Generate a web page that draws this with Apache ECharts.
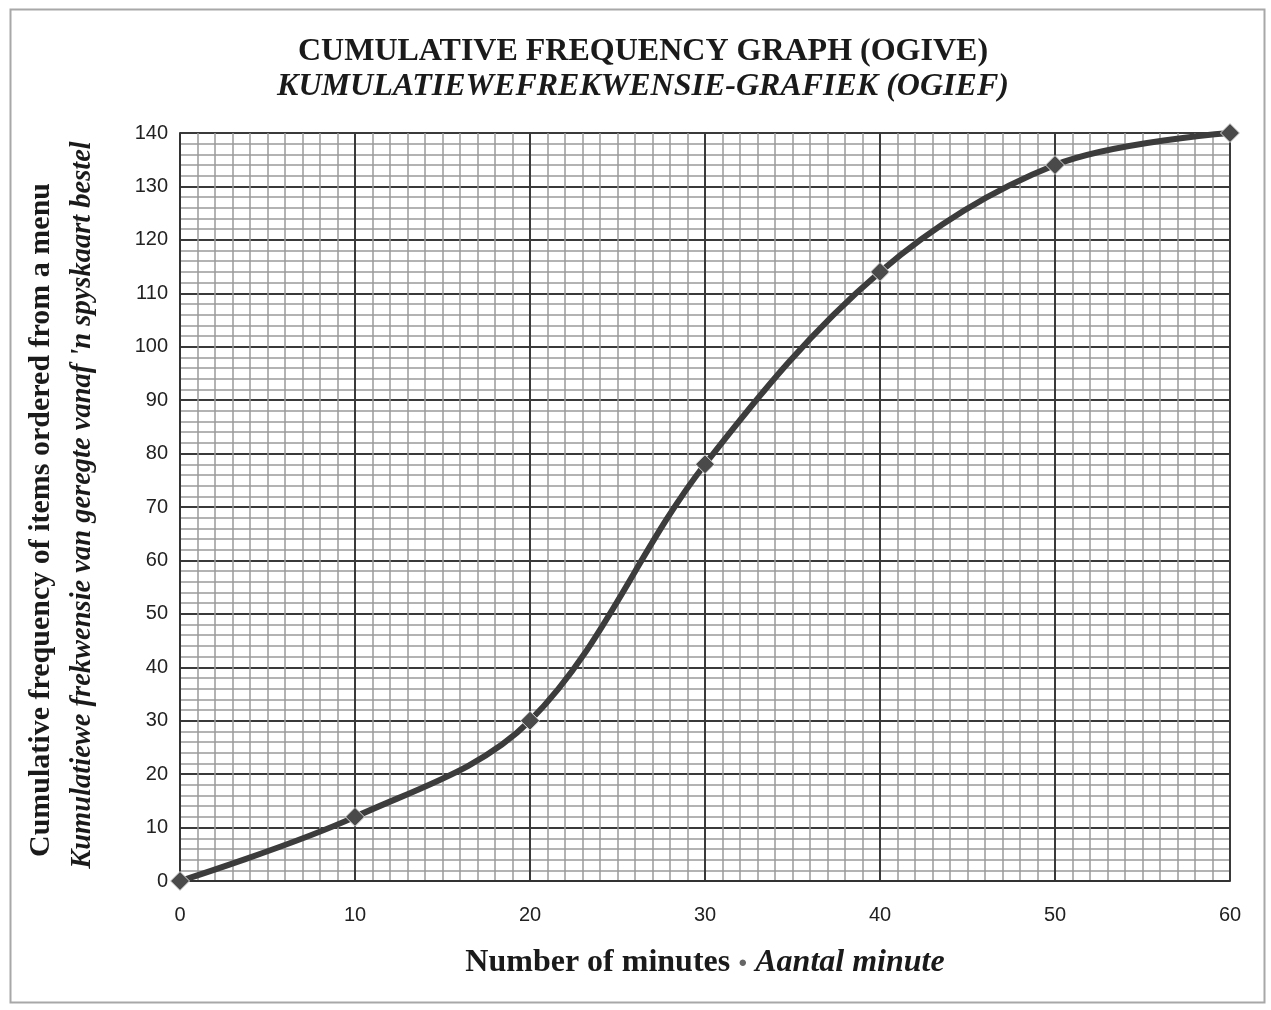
<!DOCTYPE html>
<html>
<head>
<meta charset="utf-8">
<script src="https://cdn.jsdelivr.net/npm/echarts@6/dist/echarts.min.js"></script>
<style>
html,body{margin:0;padding:0;background:#fff;}
#c{width:1271px;height:1010px;}
</style>
</head>
<body>
<div id="c"></div>
<script>
const minutes = [0, 10, 20, 30, 40, 50, 60];
const cumFreq = [0, 12, 30, 78, 114, 134, 140];
const xTicks = [0, 10, 20, 30, 40, 50, 60];
const yTicks = [0, 10, 20, 30, 40, 50, 60, 70, 80, 90, 100, 110, 120, 130, 140];

const chart = echarts.init(document.getElementById('c'), null, {renderer: 'canvas'});
const serif = '"Liberation Serif", "DejaVu Serif", serif';
const sans = '"Liberation Sans", Arial, sans-serif';
const option = {
  backgroundColor: '#fff',
  animation: false,
  title: [
    {text: 'CUMULATIVE FREQUENCY GRAPH (OGIVE)', left: 638, top: 31, textAlign: 'center',
     textStyle: {fontFamily: serif, fontWeight: 'bold', fontSize: 32, color: '#1a1a1a'}},
    {text: 'KUMULATIEWEFREKWENSIE-GRAFIEK (OGIEF)', left: 638, top: 66, textAlign: 'center',
     textStyle: {fontFamily: serif, fontWeight: 'bold', fontStyle: 'italic', fontSize: 32, color: '#1a1a1a'}}
  ],
  grid: {left: 180, right: 41, top: 133, bottom: 129, containLabel: false},
  xAxis: {
    type: 'value', min: 0, max: 60, interval: 10,
    axisLine: {show: true, lineStyle: {color: '#333', width: 2}},
    axisTick: {show: false},
    axisLabel: {color: '#222', fontSize: 20, fontFamily: sans, margin: 24,
      formatter: v => xTicks.includes(v) ? String(v) : ''},
    splitLine: {show: true, lineStyle: {color: '#3a3a3a', width: 2}},
    minorTick: {show: false, splitNumber: 10},
    minorSplitLine: {show: true, lineStyle: {color: '#9a9a9a', width: 1.5}}
  },
  yAxis: {
    type: 'value', min: 0, max: 140, interval: 10,
    axisLine: {show: true, lineStyle: {color: '#333', width: 2}},
    axisTick: {show: false},
    axisLabel: {color: '#222', fontSize: 20, fontFamily: sans, margin: 12,
      formatter: v => yTicks.includes(v) ? String(v) : ''},
    splitLine: {show: true, lineStyle: {color: '#3a3a3a', width: 2}},
    minorTick: {show: false, splitNumber: 5},
    minorSplitLine: {show: true, lineStyle: {color: '#9a9a9a', width: 1.5}}
  },
  graphic: [
    {type: 'rect', left: 8, top: 7, z: -10, silent: true,
     shape: {width: 1254, height: 993}, style: {fill: 'none', stroke: '#a8a8a8', lineWidth: 2}},
    {type: 'text', x: 705, y: 963, style: {
      text: '{a|Number of minutes }{d|●}{b| Aantal minute}',
      rich: {
        a: {fontFamily: serif, fontWeight: 'bold', fontSize: 32, fill: '#1a1a1a'},
        d: {fontFamily: sans, fontSize: 15, fill: '#666'},
        b: {fontFamily: serif, fontWeight: 'bold', fontStyle: 'italic', fontSize: 32, fill: '#1a1a1a'}
      },
      align: 'center', verticalAlign: 'middle'}},
    {type: 'text', x: 41, y: 520, rotation: Math.PI / 2, style: {
      text: 'Cumulative frequency of items ordered from a menu',
      font: 'bold 30px ' + serif, fill: '#1a1a1a', align: 'center', verticalAlign: 'middle'}},
    {type: 'text', x: 83, y: 505, rotation: Math.PI / 2, style: {
      text: "Kumulatiewe frekwensie van geregte vanaf 'n spyskaart bestel",
      font: 'italic bold 28.5px ' + serif, fill: '#1a1a1a', align: 'center', verticalAlign: 'middle'}}
  ],
  series: [{
    type: 'line',
    data: minutes.map((m, i) => [m, cumFreq[i]]),
    smooth: 0.35,
    symbol: 'diamond', symbolSize: 19,
    lineStyle: {color: '#3c3c3c', width: 6},
    itemStyle: {color: '#4a4a4a', borderColor: '#ddd', borderWidth: 1},
    z: 5
  }]
};
chart.setOption(option);
</script>
</body>
</html>
